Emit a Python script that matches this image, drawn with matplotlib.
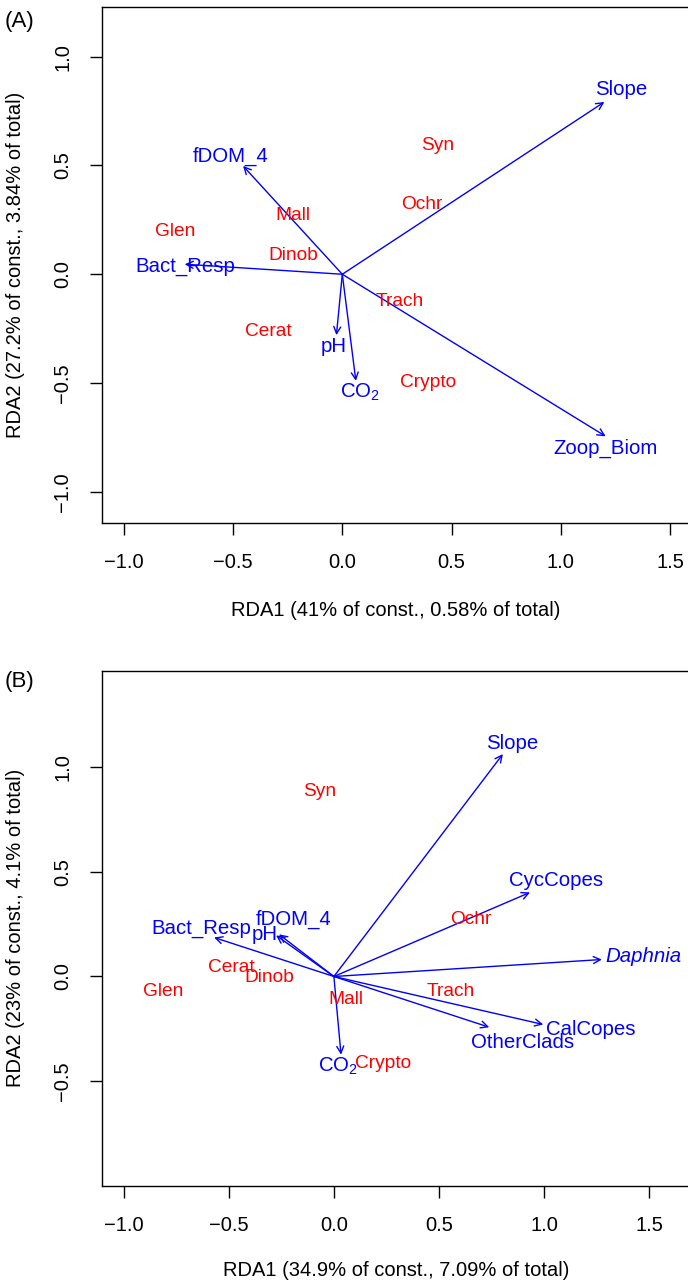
import numpy as np
import matplotlib
matplotlib.use("Agg")
import matplotlib.pyplot as plt
from matplotlib.patches import FancyArrowPatch

plt.rcParams['font.family'] = ['Liberation Sans', 'DejaVu Sans']
plt.rcParams['mathtext.fontset'] = 'custom'
plt.rcParams['mathtext.rm'] = 'Liberation Sans'
plt.rcParams['mathtext.it'] = 'Liberation Sans:italic'

# Panel A: species (red) and explanatory arrows (blue)
spA = ['Syn', 'Ochr', 'Mall', 'Glen', 'Dinob', 'Trach', 'Cerat', 'Crypto']
spA_x = [0.435, 0.362, -0.226, -0.766, -0.225, 0.263, -0.339, 0.393]
spA_y = [0.593, 0.322, 0.268, 0.198, 0.084, -0.127, -0.261, -0.498]

envA = ['Slope', 'fDOM_4', 'Bact_Resp', 'pH', 'CO$_2$', 'Zoop_Biom']
envA_x = [1.199, -0.454, -0.721, -0.027, 0.062, 1.205]
envA_y = [0.792, 0.498, 0.046, -0.280, -0.490, -0.745]
envA_lx = [1.274, -0.510, -0.720, -0.038, 0.080, 1.205]
envA_ly = [0.847, 0.544, 0.035, -0.333, -0.544, -0.800]

# Panel B
spB = ['Syn', 'Ochr', 'Cerat', 'Dinob', 'Glen', 'Mall', 'Trach', 'Crypto']
spB_x = [-0.066, 0.651, -0.490, -0.309, -0.813, 0.058, 0.557, 0.234]
spB_y = [0.884, 0.271, 0.043, -0.005, -0.072, -0.110, -0.072, -0.416]

envB = ['Slope', 'CycCopes', 'Daphnia', 'CalCopes', 'OtherClads', 'CO$_2$',
        'Bact_Resp', 'fDOM_4', 'pH']
envB_x = [0.804, 0.933, 1.275, 0.996, 0.739, 0.034, -0.570, -0.261, -0.275]
envB_y = [1.061, 0.401, 0.081, -0.229, -0.242, -0.373, 0.186, 0.201, 0.196]
envB_lx = [0.847, 1.057, 1.475, 1.222, 0.898, 0.020, -0.632, -0.190, -0.328]
envB_ly = [1.113, 0.459, 0.096, -0.255, -0.314, -0.430, 0.229, 0.272, 0.201]

xlabA = "RDA1 (41% of const., 0.58% of total)"
ylabA = "RDA2 (27.2% of const., 3.84% of total)"
xlabB = "RDA1 (34.9% of const., 7.09% of total)"
ylabB = "RDA2 (23% of const., 4.1% of total)"

W, H = 688, 1288
fig = plt.figure(figsize=(W/100, H/100), dpi=100)

def px_axes(l, r, t, b):
    return fig.add_axes([l/W, (H-b)/H, (r-l)/W, (b-t)/H])

def draw(ax, sp, sx, sy, env, ex, ey, elx, ely, xlab, ylab, italic=()):
    for n, x, y in zip(sp, sx, sy):
        ax.text(x, y, n, color='red', fontsize=13.8, ha='center', va='center')
    for n, x, y, lx, ly in zip(env, ex, ey, elx, ely):
        ar = FancyArrowPatch((0, 0), (x, y), arrowstyle='->,head_length=0.5,head_width=0.25',
                             mutation_scale=10, color='blue', lw=1.0,
                             shrinkA=0, shrinkB=0)
        ax.add_patch(ar)
        st = 'italic' if n in italic else 'normal'
        ax.text(lx, ly, n, color='blue', fontsize=14.7, ha='center', va='center', style=st)
    for s in ax.spines.values():
        s.set_linewidth(1.0)
    ax.tick_params(direction='out', length=8.5, width=1.0, labelsize=14.5, pad=13)
    ax.tick_params(axis='y', labelrotation=90)
    ax.set_xlabel(xlab, fontsize=14.5)
    ax.set_ylabel(ylab, fontsize=14.5)

# Panel A
axA = px_axes(102, 690, 7.3, 522.7)
axA.set_xlim(-1.0993, 1.5906)
axA.set_ylim(-1.142, 1.227)
axA.set_xticks([-1.0, -0.5, 0.0, 0.5, 1.0, 1.5])
axA.set_yticks([-1.0, -0.5, 0.0, 0.5, 1.0])
draw(axA, spA, spA_x, spA_y, envA, envA_x, envA_y, envA_lx, envA_ly, xlabA, ylabA)
axA.xaxis.set_label_coords(0.5, (522.7-610)/515.4)
axA.xaxis.label.set_va('center')
axA.yaxis.set_label_coords((15-102)/588, 0.5)
axA.yaxis.label.set_va('center')

# Panel B
axB = px_axes(102, 691, 670.7, 1185.7)
axB.set_xlim(-1.1032, 1.699)
axB.set_ylim(-0.998, 1.4587)
axB.set_xticks([-1.0, -0.5, 0.0, 0.5, 1.0, 1.5])
axB.set_yticks([-0.5, 0.0, 0.5, 1.0])
draw(axB, spB, spB_x, spB_y, envB, envB_x, envB_y, envB_lx, envB_ly, xlabB, ylabB,
     italic=('Daphnia',))
axB.xaxis.set_label_coords(0.5, (1185.7-1270)/515.0)
axB.xaxis.label.set_va('center')
axB.yaxis.set_label_coords((15-102)/589, 0.5)
axB.yaxis.label.set_va('center')

for a in (axA, axB):
    for lbl in a.get_yticklabels():
        lbl.set_va('center')

fig.text(20/W, 1-21.5/H, "(A)", fontsize=16, ha='center', va='center')
fig.text(20/W, 1-681/H, "(B)", fontsize=16, ha='center', va='center')

plt.savefig("out.png", dpi=100)
